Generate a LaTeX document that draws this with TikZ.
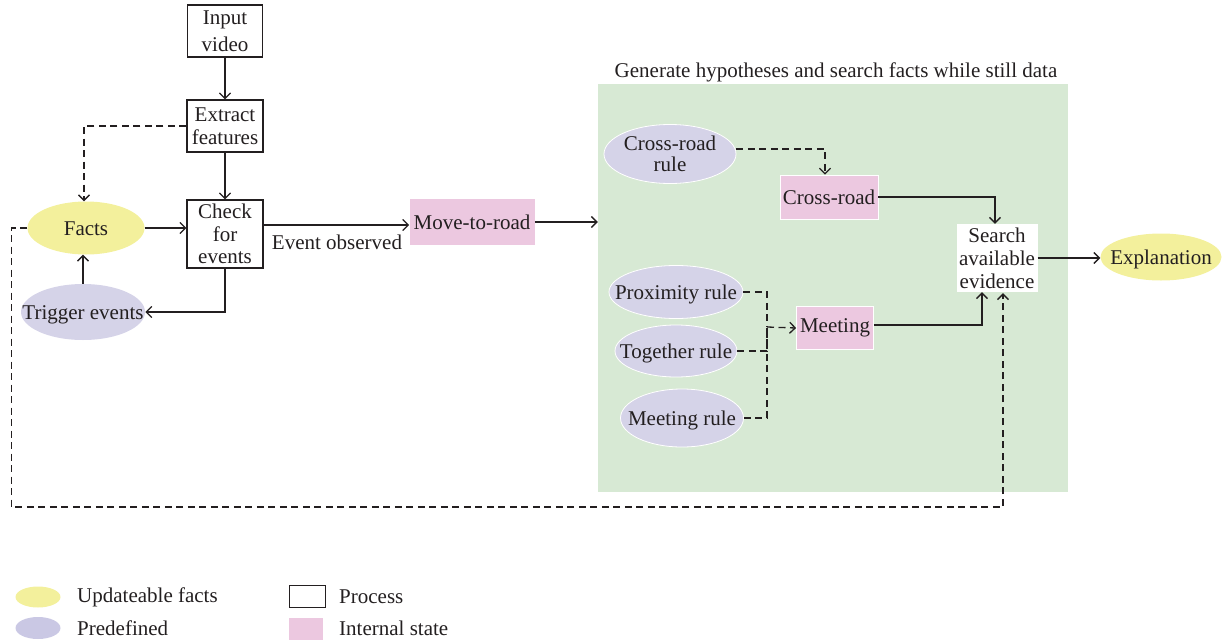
\documentclass[tikz,border=0pt]{standalone}
\usepackage{fontspec}
\setmainfont{Liberation Serif}
\usetikzlibrary{arrows.meta,positioning,calc,shapes.geometric}
\definecolor{factyellow}{RGB}{243,240,156}
\definecolor{predef}{RGB}{213,211,232}
\definecolor{predefdark}{RGB}{202,200,228}
\definecolor{statepink}{RGB}{236,200,224}
\definecolor{zonegreen}{RGB}{215,233,212}
\definecolor{ink}{RGB}{35,31,32}
% ellipse labels: zero-width box so the ellipse size is set by minimum width/height only
\newcommand{\ztext}[1]{\raisebox{-2.5pt}[\height][\depth]{\makebox[0pt]{\begin{tabular}{@{}c@{}}#1\end{tabular}}}}
\begin{document}
\begin{tikzpicture}[x=1pt,y=-1pt,
  font=\fontsize{21}{23}\selectfont, text=ink,
  every node/.style={inner sep=0pt, align=center},
  procbox/.style={draw=ink, line width=1.3pt, fill=white, rectangle},
  statebox/.style={fill=statepink, draw=white, line width=0.8pt, rectangle},
  updfact/.style={fill=factyellow, draw=none, ellipse},
  predefrule/.style={fill=predef, draw=white, line width=0.8pt, ellipse},
  conn/.style={draw=ink, line width=1.3pt, -{Straight Barb[length=5.5pt,width=11pt]}},
  dconn/.style={conn, dash pattern=on 7pt off 4.5pt},
  dline/.style={draw=ink, line width=1.3pt, dash pattern=on 7pt off 4.5pt}
]
\useasboundingbox (0,0) rectangle (1225,642);

% hypothesis zone
\node[fill=zonegreen, minimum width=470pt, minimum height=408pt] (zone) at (833,288) {};
\node (zonetitle) at (836,72) {Generate hypotheses and search facts while still data};

% left part: processing chain
\node[procbox, minimum width=75pt, minimum height=52pt, font=\fontsize{21}{27}\selectfont] (input) at (225,31) {Input\\video};
\node[procbox, minimum width=76pt, minimum height=52pt] (extract) at (225,126) {Extract\\features};
\node[procbox, minimum width=76pt, minimum height=68pt, font=\fontsize{21}{22.5}\selectfont] (check) at (225,234) {Check\\for\\events};
\node[updfact, minimum width=117pt, minimum height=53pt] (facts) at (86,228) {\ztext{Facts}};
\node[predefrule, draw=none, minimum width=124pt, minimum height=56pt] (trigger) at (83,312) {\ztext{Trigger events}};
\node[statebox, draw=none, minimum width=125pt, minimum height=46pt] (move) at (472,222) {Move-to-road};
\node (evobs) at (337,242) {Event observed};

% hypotheses
\node[predefrule, minimum width=132pt, minimum height=59pt, font=\fontsize{21}{20}\selectfont] (crrule) at (670,154) {\ztext{Cross-road\\rule}};
\node[statebox, minimum width=98pt, minimum height=44pt] (cross) at (829,197) {Cross-road};
\node[fill=white, minimum width=81pt, minimum height=68pt] (search) at (997,258) {Search\\available\\evidence};
\node[updfact, minimum width=121pt, minimum height=47pt] (expl) at (1161,257) {\ztext{Explanation}};
\node[predefrule, minimum width=134pt, minimum height=53pt] (prox) at (676,292) {\ztext{Proximity rule}};
\node[predefrule, minimum width=122pt, minimum height=52pt] (together) at (676,351) {\ztext{Together rule}};
\node[predefrule, minimum width=123pt, minimum height=58pt] (mrule) at (682,418) {\ztext{Meeting rule}};
\node[statebox, minimum width=77pt, minimum height=43pt] (meet) at (835,328) {Meeting};

\coordinate (bus) at (767,327);
\coordinate (loop) at (1003,507);

% connectors
\draw[conn] (input) -- (extract);
\draw[conn] (extract) -- (check);
\draw[dconn] (extract.west) -| ([xshift=-2pt]facts.north);
\draw[conn] (facts.east) -- (check.west |- facts.east);
\draw[conn] (check.south) |- (trigger.east);
\draw[conn] (trigger.north) -- (trigger.north |- facts.south);
\draw[conn] ([yshift=-3pt]check.east |- move.west) -- ([yshift=-3pt]move.west);
\draw[conn] (move.east) -- (zone.west |- move.east);
\draw[dconn] ([yshift=5pt]crrule.east) -| ([xshift=-4pt]cross.north);
\draw[conn] (cross.east) -| ([xshift=-2pt]search.north);
\draw[conn] (search.east) -- (search.east -| expl.west);
\draw[dline] (prox.east) -| (bus);
\draw[dline] (together.east) -| (bus);
\draw[dline] (mrule.east) -| (bus);
\draw[dconn] (bus) -- (meet.west);
\draw[conn] ([yshift=3pt]meet.east) -| ([xshift=-15pt]search.south);
\draw[dconn] (facts.west) -- ++(-16,0) |- (loop) -- ([xshift=6pt,yshift=-1pt]search.south);

% legend
\node[updfact, minimum width=45pt, minimum height=21pt] (lgfact) at (38,597) {};
\node[anchor=west] (lgfacttxt) at (77,597) {Updateable facts};
\node[predefrule, draw=none, fill=predefdark, minimum width=45pt, minimum height=22pt] (lgpre) at (38,628) {};
\node[anchor=west] (lgpretxt) at (77,628) {Predefined};
\node[procbox, line width=1pt, minimum width=36pt, minimum height=22pt] (lgproc) at (307,596) {};
\node[anchor=west] (lgproctxt) at (339,597) {Process};
\node[statebox, draw=none, minimum width=34pt, minimum height=22pt] (lgstate) at (306,629) {};
\node[anchor=west] (lgstatetxt) at (339,628) {Internal state};
\end{tikzpicture}
\end{document}
